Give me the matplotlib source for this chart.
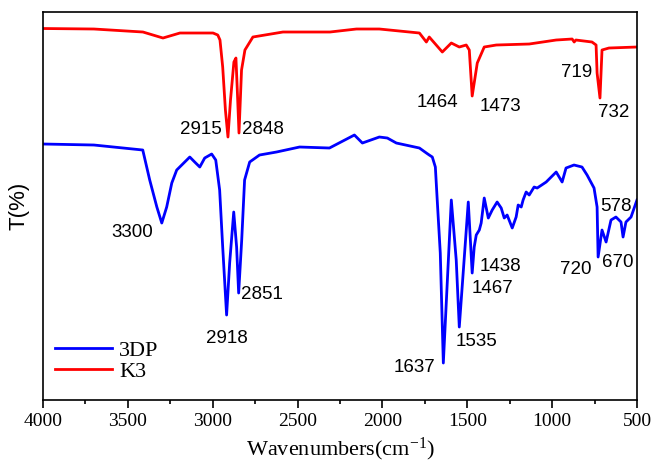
'''
FTIR spectra of K3 and 3DP
'''

import numpy as np
import matplotlib.pyplot as plt
from matplotlib.ticker import MultipleLocator

plt.rcParams['mathtext.fontset'] = 'custom'
plt.rcParams['mathtext.rm'] = 'Liberation Serif'
plt.rcParams['mathtext.it'] = 'Liberation Serif:italic'

# DATA (arbitrary transmittance units)
k3_wn = [4000, 3700, 3411, 3293, 3193, 2998, 2970, 2957, 2941, 2925, 2910, 2895,
         2875, 2863, 2855, 2845, 2830, 2810, 2763, 2586, 2309, 2153, 2018, 1782,
         1741, 1724, 1647, 1594, 1547, 1506, 1488, 1471, 1441, 1400, 1329, 1135,
         976, 882, 870, 860, 765, 741, 735, 718, 706, 665, 500]
k3_t = [371.5, 371, 368, 362, 367, 367, 365, 360, 333, 290, 263, 300,
        338, 342, 310, 267, 330, 350, 363, 368, 368, 371, 371, 367,
        358, 363, 348, 357, 353, 355, 350, 304, 337, 353, 355, 356,
        360, 361, 358, 360, 358, 355, 327, 302, 350, 352, 353]

dp_wn = [4000, 3700, 3412, 3371, 3329, 3300, 3271, 3241, 3212, 3135, 3106, 3076,
         3047, 3006, 2982, 2959, 2941, 2918, 2900, 2876, 2859, 2847, 2829, 2812,
         2782, 2724, 2624, 2488, 2312, 2165, 2118, 2018, 1971, 1918, 1782, 1741,
         1724, 1706, 1688, 1676, 1659, 1641, 1594, 1565, 1547, 1494, 1471, 1459,
         1447, 1429, 1418, 1400, 1376, 1353, 1324, 1300, 1282, 1265, 1235, 1212,
         1200, 1182, 1171, 1153, 1135, 1106, 1088, 1035, 976, 941, 918, 871,
         824, 794, 753, 735, 729, 706, 682, 653, 624, 594, 582, 565, 535, 500]
dp_t = [256, 255, 250, 220, 193, 177, 193, 217, 230, 243, 238, 233,
        242, 246, 240, 210, 153, 85, 137, 188, 153, 107, 160, 220,
        238, 245, 248, 253, 252, 265, 257, 263, 262, 257, 252, 247,
        245, 243, 233, 197, 147, 37, 200, 140, 73, 198, 127, 153,
        165, 170, 177, 202, 182, 190, 198, 192, 182, 185, 172, 183,
        195, 193, 200, 208, 205, 213, 212, 218, 228, 218, 232, 235,
        233, 225, 212, 193, 143, 170, 158, 180, 183, 178, 163, 178, 183, 200]

# peak labels: (text, wavenumber, height)
labels = ['2915', '2848', '3300', '2918', '2851', '1464', '1473', '719', '732',
          '578', '1637', '1535', '1467', '1438', '720', '670']
label_wn = [3071, 2706, 3476, 2918, 2712, 1676, 1306, 853, 635,
            624, 1812, 1447, 1353, 1306, 859, 612]
label_t = [271, 271, 168, 62, 106, 298, 294, 328, 288,
           194, 33, 59, 112, 134, 131, 138]

# PLOT
fig = plt.figure(figsize=(6.56, 4.71), dpi=100)
ax = fig.add_axes([0.0655, 0.1507, 0.9055, 0.8238])

ax.plot(dp_wn, dp_t, color='#0000ff', lw=2, label='3DP')
ax.plot(k3_wn, k3_t, color='#ff0000', lw=2, label='K3')

for txt, w, t in zip(labels, label_wn, label_t):
    ax.text(w, t, txt, ha='center', va='center', fontsize=13.5,
            family='Liberation Sans')

ax.set_xlim(4000, 500)
ax.set_ylim(0, 388)
ax.xaxis.set_major_locator(MultipleLocator(500))
ax.xaxis.set_minor_locator(MultipleLocator(250))
ax.tick_params(axis='x', which='major', direction='out', length=6, width=1.2)
ax.tick_params(axis='x', which='minor', direction='out', length=3, width=1.2)
ax.tick_params(axis='y', left=False, labelleft=False)
for lab in ax.get_xticklabels():
    lab.set_family('Liberation Serif')
    lab.set_fontsize(14)
for sp in ax.spines.values():
    sp.set_linewidth(1.2)

ax.set_xlabel('Wavenumbers(cm$^{\\mathrm{-1}}$)', family='Liberation Serif',
              fontsize=16, labelpad=4)
ax.set_ylabel('T(%)', family='Liberation Sans', fontsize=16, labelpad=10)

ax.legend(loc='lower left', bbox_to_anchor=(-0.014, -0.004), frameon=False,
          prop={'family': 'Liberation Serif', 'size': 16},
          handlelength=2.6, labelspacing=0.0, handletextpad=0.3)

fig.savefig('out.png', dpi=100)
